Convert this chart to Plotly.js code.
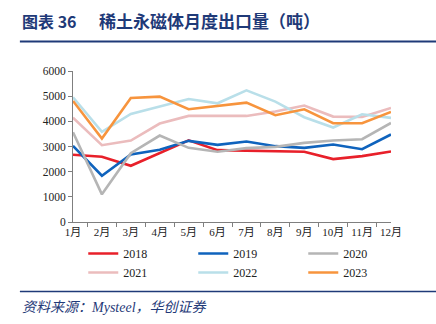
<!DOCTYPE html>
<html><head><meta charset="utf-8">
<script src="https://cdn.plot.ly/plotly-3.0.1.min.js"></script>
<style>html,body{margin:0;padding:0;background:#fff;}#c{width:436px;height:324px;}</style>
</head><body><div id="c"></div>
<script>
const months = ["1月","2月","3月","4月","5月","6月","7月","8月","9月","10月","11月","12月"];
const s2018 = [2670,2590,2234,2750,3245,2855,2828,2815,2789,2498,2617,2802];
const s2019 = [3026,1837,2683,2868,3225,3066,3198,3013,2947,3079,2894,3476];
const s2020 = [3568,1098,2736,3436,2947,2789,2934,2987,3145,3238,3290,3938];
const s2021 = [4149,3053,3238,3911,4215,4215,4215,4387,4625,4189,4176,4532];
const s2022 = [4955,3580,4295,4585,4889,4717,5232,4783,4162,3753,4281,4136];
const s2023 = [4810,3317,4929,4980,4480,4612,4744,4242,4480,3925,3925,4374];
const seriesNames = ["2018","2019","2020","2021","2022","2023"];
const seriesData = [s2018,s2019,s2020,s2021,s2022,s2023];
const colors = ["#e8202a","#0f63bd","#b5b5b5","#ebbcbd","#b9dfe9","#f7943d"];

const traces = seriesData.map((d,i)=>({
  type:"scatter", mode:"lines", x:months, y:d, name:seriesNames[i],
  line:{color:colors[i], width:2.6}
}));

const navy = "#1f3a78";
const serif = "Liberation Serif, Noto Sans CJK SC";
const layout = {
  width:436, height:324,
  margin:{l:73, r:45, t:71, b:102},
  paper_bgcolor:"#fff", plot_bgcolor:"#fff",
  showlegend:true,
  legend:{orientation:"h", x:1.07, xanchor:"right", y:-0.113, yanchor:"top",
    entrywidth:65, entrywidthmode:"pixels", tracegroupgap:0, traceorder:"normal",
    font:{family:serif, size:12, color:"#222"}},
  xaxis:{type:"category", showgrid:false, zeroline:false, showline:true, linecolor:"#7f7f7f", linewidth:1,
    ticks:"outside", tickson:"boundaries", ticklen:4, tickcolor:"#7f7f7f", tickangle:0,
    tickfont:{family:serif, size:11, color:"#222"}, fixedrange:true},
  yaxis:{range:[0,6000], dtick:1000, showgrid:false, zeroline:false, showline:true, linecolor:"#7f7f7f", linewidth:1,
    ticks:"outside", ticklen:4, tickcolor:"#7f7f7f",
    tickfont:{family:"Liberation Serif", size:11.5, color:"#222"}, fixedrange:true},
  annotations:[
    {text:"<b>图表 36</b>", xref:"paper", yref:"paper", x:-0.167, y:1.334, xanchor:"left", yanchor:"middle", showarrow:false,
      font:{family:"Noto Sans CJK SC", size:16, color:navy}},
    {text:"<b>稀土永磁体月度出口量（吨）</b>", xref:"paper", yref:"paper", x:0.075, y:1.334, xanchor:"left", yanchor:"middle", showarrow:false,
      font:{family:"Noto Sans CJK SC", size:17, color:navy}},
    {text:"资料来源：Mysteel，华创证券", xref:"paper", yref:"paper", x:-0.167, y:-0.565, xanchor:"left", yanchor:"middle", showarrow:false,
      font:{family:serif, size:14, color:navy, style:"italic"}}
  ],
  shapes:[
    {type:"line", xref:"paper", yref:"paper", x0:-0.167, x1:1.1415, y0:1.196, y1:1.196, line:{color:navy, width:2}},
    {type:"line", xref:"paper", yref:"paper", x0:-0.167, x1:1.1415, y0:-0.46, y1:-0.46, line:{color:navy, width:1.5}}
  ]
};
Plotly.newPlot("c", traces, layout, {displayModeBar:false, staticPlot:true});
</script></body></html>
